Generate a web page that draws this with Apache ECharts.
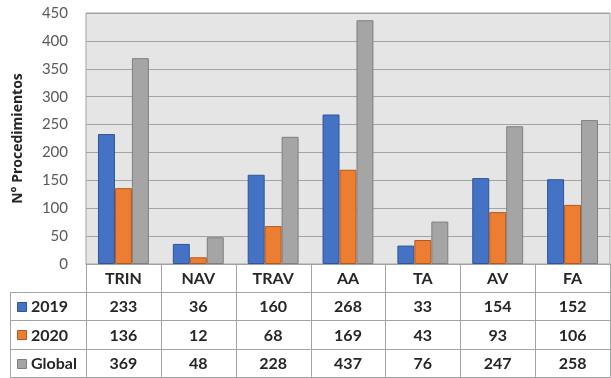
<!DOCTYPE html>
<html>
<head>
<meta charset="utf-8">
<script src="https://cdn.jsdelivr.net/npm/echarts@6/dist/echarts.min.js"></script>
<style>
  html, body { margin: 0; padding: 0; background: #ffffff; }
  #chart { width: 611px; height: 378px; }
</style>
</head>
<body>
<div id="chart"></div>
<script>
// Procedimientos por tipo: 2019, 2020 y total global
const categories = ['TRIN', 'NAV', 'TRAV', 'AA', 'TA', 'AV', 'FA'];
const seriesNames = ['2019', '2020', 'Global'];
const values2019 = [233, 36, 160, 268, 33, 154, 152];
const values2020 = [136, 12, 68, 169, 43, 93, 106];
const valuesGlobal = [369, 48, 228, 437, 76, 247, 258];
const yTicks = [0, 50, 100, 150, 200, 250, 300, 350, 400, 450];

const fills = ['#4472c4', '#ed7d31', '#a5a5a5'];
const edges = ['#2f5597', '#b05a1f', '#7f7f7f'];
const allValues = [values2019, values2020, valuesGlobal];

const FONT = 'Lato, "Open Sans", sans-serif';
const TEXT = '#262626';
const LINE = '#a3a3a3';

const chart = echarts.init(document.getElementById('chart'), null, { renderer: 'canvas' });

const grid = { left: 86, right: 1, top: 13, bottom: 114 };

chart.setOption({
  animation: false,
  backgroundColor: '#ffffff',
  grid: Object.assign({ show: true, backgroundColor: '#e5e5e5', borderColor: LINE, borderWidth: 1 }, grid),
  xAxis: {
    type: 'category',
    data: categories,
    axisLine: { show: true, lineStyle: { color: LINE } },
    axisTick: { show: false },
    axisLabel: { show: false }
  },
  yAxis: {
    type: 'value',
    min: yTicks[0],
    max: yTicks[yTicks.length - 1],
    interval: yTicks[1] - yTicks[0],
    name: 'N° Procedimientos',
    nameLocation: 'middle',
    nameGap: 61,
    nameTextStyle: { fontFamily: '"Open Sans", sans-serif', fontWeight: 'bold', fontSize: 14, color: TEXT },
    axisLine: { show: false },
    axisTick: { show: false },
    axisLabel: { fontFamily: FONT, fontSize: 15, color: '#595959', margin: 18 },
    splitLine: { lineStyle: { color: LINE, width: 1 } }
  },
  series: seriesNames.map((name, i) => ({
    name: name,
    type: 'bar',
    data: allValues[i],
    barGap: '0%',
    barCategoryGap: '32%',
    itemStyle: { color: fills[i], borderColor: edges[i], borderWidth: 1 }
  }))
});

// Data table under the plot, aligned with the category axis
function drawTable() {
  const gridModel = chart.getModel().getComponent('grid', 0);
  const rect = gridModel.coordinateSystem.getRect();
  const x0 = rect.x, x1 = rect.x + rect.width;
  const yAxisBottom = rect.y + rect.height;
  const step = rect.width / categories.length;
  const headerBottom = yAxisBottom + 28;
  const rowH = 28.3;
  const tableLeft = 10;
  const tableBottom = headerBottom + rowH * seriesNames.length;
  const cellFont = 'bold 16px ' + FONT;

  const els = [];
  const line = (xa, ya, xb, yb) => els.push({
    type: 'line', silent: true,
    shape: { x1: xa, y1: ya, x2: xb, y2: yb },
    style: { stroke: LINE, lineWidth: 1 }
  });

  // vertical separators for category columns
  for (let i = 0; i <= categories.length; i++) {
    const x = Math.round(x0 + step * i) + 0.5;
    line(x, yAxisBottom, x, tableBottom);
  }
  line(tableLeft + 0.5, headerBottom, tableLeft + 0.5, tableBottom);
  // horizontal row separators
  for (let r = 0; r <= seriesNames.length; r++) {
    const y = Math.round(headerBottom + rowH * r) + 0.5;
    line(tableLeft, y, x1 + 0.5, y);
  }

  // header: category names
  categories.forEach((c, i) => {
    const cx = chart.convertToPixel({ xAxisIndex: 0 }, c);
    els.push({
      type: 'text', silent: true,
      style: {
        x: cx, y: (yAxisBottom + headerBottom) / 2 + 1, text: c,
        textAlign: 'center', textVerticalAlign: 'middle',
        font: cellFont, fill: TEXT
      }
    });
  });

  // rows: legend key, series name, values
  seriesNames.forEach((name, r) => {
    const cy = headerBottom + rowH * r + rowH / 2 + 1;
    els.push({
      type: 'rect', silent: true,
      shape: { x: 17.5, y: Math.round(cy - 5) + 0.5, width: 9, height: 9 },
      style: { fill: fills[r], stroke: edges[r], lineWidth: 1 }
    });
    els.push({
      type: 'text', silent: true,
      style: {
        x: 31, y: cy, text: name,
        textAlign: 'left', textVerticalAlign: 'middle',
        font: cellFont, fill: TEXT
      }
    });
    allValues[r].forEach((v, i) => {
      const cx = chart.convertToPixel({ xAxisIndex: 0 }, categories[i]);
      els.push({
        type: 'text', silent: true,
        style: {
          x: cx, y: cy, text: String(v),
          textAlign: 'center', textVerticalAlign: 'middle',
          font: cellFont, fill: TEXT
        }
      });
    });
  });

  chart.setOption({ graphic: { elements: els } });
}

drawTable();
</script>
</body>
</html>
